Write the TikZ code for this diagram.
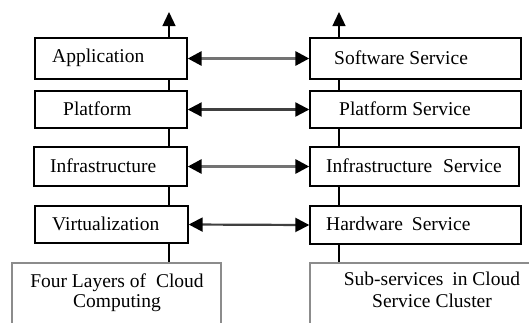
\documentclass[tikz,border=0pt]{standalone}
\usepackage{fontspec}
\setmainfont{Liberation Serif}
\usetikzlibrary{arrows.meta}
\begin{document}
\begin{tikzpicture}[x=1pt,y=-1pt,
  layerbox/.style={draw=black,line width=1.4pt,minimum width=#1,inner sep=0pt},
  basebox/.style={draw=black!45,line width=1.2pt,inner sep=0pt},
  lbl/.style={anchor=west,inner sep=0pt,font=\fontsize{19.5}{22}\selectfont},
  btext/.style={align=center,inner sep=0pt,font=\fontsize{19.5}{20}\selectfont},
  stem/.style={line width=1.3pt,black},
  uptip/.style={stem,-{Triangle[length=14pt,width=13pt,color=black]}},
  linkA/.style={line width=3pt,black!55,
    {Triangle[length=14pt,width=14pt,color=black]}-{Triangle[length=14pt,width=14pt,color=black]}},
  linkB/.style={line width=2.2pt,black!75,
    {Triangle[length=14pt,width=14pt,color=black]}-{Triangle[length=14pt,width=14pt,color=black]}}
]
\useasboundingbox (0,0) rectangle (529,322);
\clip (0,0) rectangle (529,322);

% left column: four layers
\node[layerbox=152pt,minimum height=41pt] (app)   at (111,58.5)  {};
\node[layerbox=152pt,minimum height=37pt] (plat)  at (111,109.5) {};
\node[layerbox=153pt,minimum height=39pt] (infra) at (110.5,166.5) {};
\node[layerbox=153pt,minimum height=37pt] (virt)  at (111.5,224.5) {};

% right column: sub-services
\node[layerbox=211pt,minimum height=41pt] (soft)   at (415.5,58.5)  {};
\node[layerbox=211pt,minimum height=37pt] (plats)  at (415.5,109.5) {};
\node[layerbox=209pt,minimum height=39pt] (infras) at (414.5,166.5) {};
\node[layerbox=211pt,minimum height=38pt] (hard)   at (415.5,225)   {};

% base boxes (running off the lower and right edges)
\node[basebox,minimum width=209pt,minimum height=80pt] (lbot) at (116.5,303) {};
\node[basebox,minimum width=240pt,minimum height=80pt] (rbot) at (430,303) {};

% box texts
\node[lbl] (tapp)   at (52,58)   {Application};
\node[lbl] (tplat)  at (63,109)  {Platform};
\node[lbl] (tinfra) at (50,166)  {Infrastructure};
\node[lbl] (tvirt)  at (52,224)  {Virtualization};
\node[lbl] (tsoft)   at (334,58)  {Software Service};
\node[lbl] (tplats)  at (339,109) {Platform Service};
\node[lbl] (tinfras) at (326,166) {Infrastructure\hspace{6pt} Service};
\node[lbl] (thard)   at (326,224) {Hardware\hspace{4pt} Service};
\node[btext] (tlbot) at (117,293) {Four Layers of\hspace{5pt} Cloud\\Computing};
\node[btext] (trbot) at (432,290) {Sub-services\hspace{4pt} in Cloud\\[2pt]Service Cluster};

% vertical stems
\coordinate (ltop) at (169,12);
\coordinate (rtop) at (339,12);
\draw[uptip] (app.north -| ltop) -- (ltop);
\draw[stem] (app.south -| ltop) -- (plat.north -| ltop);
\draw[stem] (plat.south -| ltop) -- (infra.north -| ltop);
\draw[stem] (infra.south -| ltop) -- (virt.north -| ltop);
\draw[stem] (virt.south -| ltop) -- (lbot.north -| ltop);
\draw[uptip] (soft.north -| rtop) -- (rtop);
\draw[stem] (soft.south -| rtop) -- (plats.north -| rtop);
\draw[stem] (plats.south -| rtop) -- (infras.north -| rtop);
\draw[stem] (infras.south -| rtop) -- (hard.north -| rtop);
\draw[stem] (hard.south -| rtop) -- (rbot.north -| rtop);

% two-way links between layers and services
\draw[linkA] (app.east) -- (soft.west);
\draw[linkB] (plat.east) -- (plats.west);
\draw[linkA] (infra.east) -- (infras.west);
\draw[linkB] (virt.east) -- (hard.west);
\end{tikzpicture}
\end{document}
